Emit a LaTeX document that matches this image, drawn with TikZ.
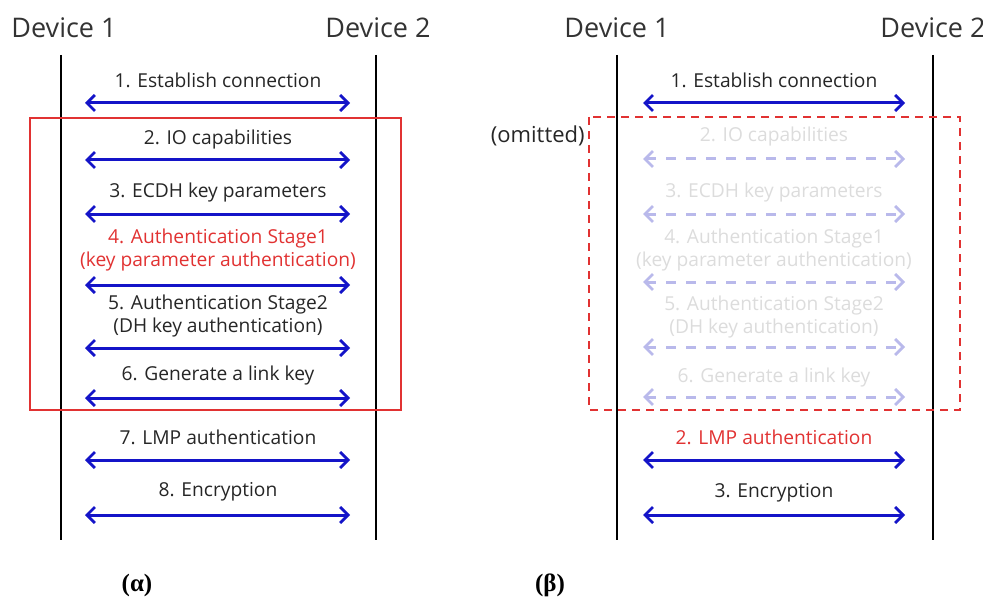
\documentclass[tikz,border=0pt]{standalone}
\usepackage{fontspec}
\setmainfont{Open Sans}
\newfontfamily\capfont{Liberation Serif}
\usetikzlibrary{arrows.meta,positioning}
\definecolor{msgblue}{RGB}{20,20,200}
\definecolor{boxred}{RGB}{225,50,50}
\definecolor{fadeblue}{RGB}{185,185,235}
\definecolor{fadetext}{RGB}{220,220,220}
\tikzset{x=0.5pt, y=-0.5pt, % one unit is one pixel of the original
        lifeline/.style={ % Vertical line of a device
            line width=1.4pt, black},
        msg/.style={ % Exchanged message, both directions
            draw=msgblue, line width=1.5pt,
            {Straight Barb[length=4pt,width=8pt,line width=1.4pt]}-{Straight Barb[length=4pt,width=8pt,line width=1.4pt]}},
        skipmsg/.style={ % Omitted message
            msg, draw=fadeblue, dash pattern=on 5pt off 5pt},
        devlabel/.style={font=\fontsize{13.5}{16}\selectfont, text=black!80},
        msglabel/.style={font=\fontsize{9.6}{11.5}\selectfont, text=black!85, align=center, inner sep=1pt},
        redlabel/.style={msglabel, text=boxred},
        skiplabel/.style={msglabel, text=fadetext},
        caption/.style={font=\capfont\bfseries\fontsize{12.5}{15}\selectfont}
        }

\begin{document}
\begin{tikzpicture}
    \useasboundingbox (0,0) rectangle (983,609);

    % (alpha) full pairing
    \node[devlabel] (dA) at (64,28)  {Device 1};
    \node[devlabel] (dB) at (378,28) {Device 2};
    \coordinate (dAtop) at (61,55);   \coordinate (dAbot) at (61,540);
    \coordinate (dBtop) at (376,55);  \coordinate (dBbot) at (376,540);
    \draw[lifeline] (dAtop) -- (dAbot);
    \draw[lifeline] (dBtop) -- (dBbot);

    \node[msglabel] (m1) at (218,80)  {1. Establish connection};
    \node[msglabel] (m2) at (218,140) {2. IO capabilities};
    \node[msglabel] (m3) at (218,193) {3. ECDH key parameters};
    \node[redlabel] (m4) at (218,250) {4. Authentication Stage1\\(key parameter authentication)};
    \node[msglabel] (m5) at (218,316) {5. Authentication Stage2\\(DH key authentication)};
    \node[msglabel] (m6) at (218,376) {6. Generate a link key};
    \node[msglabel] (m7) at (218,437) {7. LMP authentication};
    \node[msglabel] (m8) at (218,492) {8. Encryption};

    \coordinate (a1) at (85,103);  \coordinate (b1) at (350,103);
    \coordinate (a2) at (85,160);  \coordinate (b2) at (350,160);
    \coordinate (a3) at (85,214);  \coordinate (b3) at (350,214);
    \coordinate (a4) at (85,285);  \coordinate (b4) at (350,285);
    \coordinate (a5) at (85,348);  \coordinate (b5) at (350,348);
    \coordinate (a6) at (85,398);  \coordinate (b6) at (350,398);
    \coordinate (a7) at (85,460);  \coordinate (b7) at (350,460);
    \coordinate (a8) at (85,515);  \coordinate (b8) at (350,515);
    \draw[msg] (a1) -- (b1);
    \draw[msg] (a2) -- (b2);
    \draw[msg] (a3) -- (b3);
    \draw[msg] (a4) -- (b4);
    \draw[msg] (a5) -- (b5);
    \draw[msg] (a6) -- (b6);
    \draw[msg] (a7) -- (b7);
    \draw[msg] (a8) -- (b8);

    \coordinate (boxA1) at (30,118); \coordinate (boxA2) at (401,410);
    \draw[boxred, line width=1pt] (boxA1) rectangle (boxA2);

    \node[caption] (capA) at (137,585) {(α)};

    % (beta) shortened pairing
    \node[devlabel] (dC) at (617,28) {Device 1};
    \node[devlabel] (dD) at (933,28) {Device 2};
    \coordinate (dCtop) at (617,55);  \coordinate (dCbot) at (617,540);
    \coordinate (dDtop) at (933,55);  \coordinate (dDbot) at (933,540);
    \draw[lifeline] (dCtop) -- (dCbot);
    \draw[lifeline] (dDtop) -- (dDbot);

    \node[msglabel]  (n1) at (774,80)  {1. Establish connection};
    \node[skiplabel] (n2) at (774,137) {2. IO capabilities};
    \node[skiplabel] (n3) at (774,193) {3. ECDH key parameters};
    \node[skiplabel] (n4) at (774,250) {4. Authentication Stage1\\(key parameter authentication)};
    \node[skiplabel] (n5) at (774,317) {5. Authentication Stage2\\(DH key authentication)};
    \node[skiplabel] (n6) at (774,378) {6. Generate a link key};
    \node[redlabel]  (n7) at (774,437) {2. LMP authentication};
    \node[msglabel]  (n8) at (774,493) {3. Encryption};

    \coordinate (c1) at (643,103);  \coordinate (e1) at (905,103);
    \coordinate (c2) at (643,159);  \coordinate (e2) at (905,159);
    \coordinate (c3) at (643,214);  \coordinate (e3) at (905,214);
    \coordinate (c4) at (643,282);  \coordinate (e4) at (905,282);
    \coordinate (c5) at (643,347);  \coordinate (e5) at (905,347);
    \coordinate (c6) at (643,397);  \coordinate (e6) at (905,397);
    \coordinate (c7) at (643,460);  \coordinate (e7) at (905,460);
    \coordinate (c8) at (643,515);  \coordinate (e8) at (905,515);
    \draw[msg]     (c1) -- (e1);
    \draw[skipmsg] (c2) -- (e2);
    \draw[skipmsg] (c3) -- (e3);
    \draw[skipmsg] (c4) -- (e4);
    \draw[skipmsg] (c5) -- (e5);
    \draw[skipmsg] (c6) -- (e6);
    \draw[msg]     (c7) -- (e7);
    \draw[msg]     (c8) -- (e8);

    \coordinate (boxB1) at (589,117); \coordinate (boxB2) at (960,410);
    \draw[boxred, line width=1pt, dash pattern=on 4pt off 3pt] (boxB1) rectangle (boxB2);
    \node[msglabel, font=\fontsize{11}{13}\selectfont, left=1pt of boxB1, anchor=north east, yshift=-3pt] (omit) {(omitted)};

    \node[caption] (capB) at (550,585) {(β)};
\end{tikzpicture}
\end{document}
